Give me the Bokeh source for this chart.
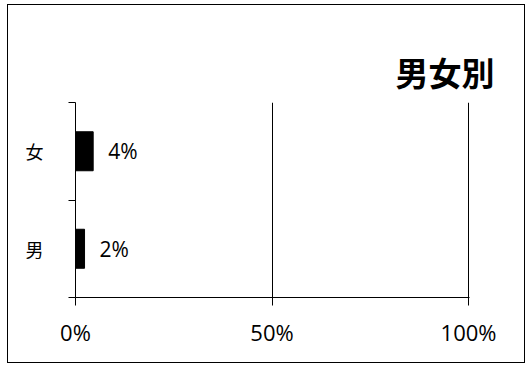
from bokeh.plotting import figure
from bokeh.models import Range1d, FixedTicker, ColumnDataSource, LinearAxis
from bokeh.core.properties import value
from bokeh.embed import file_html
from bokeh.resources import INLINE

# data
categories = ["男", "女"]
positions = [0.5, 1.5]
values = [2.3, 4.5]
bar_labels = [f"{round(v)}%" for v in values]
x_ticks = [0, 50, 100]
x_tick_labels = ["0%", "50%", "100%"]
title_text = "男女別"

src = ColumnDataSource(dict(y=positions, v=values, lab=bar_labels))

p = figure(width=518, height=359, output_backend="svg", toolbar_location=None,
           x_range=Range1d(0, 100.25), y_range=Range1d(0, 2),
           min_border_left=67, min_border_right=57, min_border_top=97, min_border_bottom=67)
p.styles = {"border": "1px solid black", "margin-left": "7px", "margin-top": "4px"}
p.outline_line_color = None
p.background_fill_color = "white"
p.border_fill_color = "white"

p.title.text = title_text
p.title.align = "right"
p.title.vertical_align = "top"
p.title.text_font = "Noto Sans CJK JP"
p.title.text_font_size = "33px"
p.title.text_font_style = "bold"
p.title.text_color = "black"
p.title.offset = -25
p.title.standoff = 10

xa = p.below[0]
ya = p.left[0]

# invisible spacer axis that lifts the title away from the plot area
spacer = LinearAxis(ticker=FixedTicker(ticks=[]), major_tick_out=27, major_tick_in=0,
                    minor_tick_out=0, minor_tick_in=0, axis_line_color=None,
                    major_tick_line_color="white", minor_tick_line_color=None,
                    major_label_text_font_size="0px")
p.add_layout(spacer, "above")

p.hbar(y="y", right="v", left=0, height=0.4, source=src, color="black")
p.text(x="v", y="y", text="lab", source=src, x_offset=15, text_baseline="middle",
       text_align="left", text_font=value("Open Sans"), text_font_size="21px", text_color="black")

xa.ticker = FixedTicker(ticks=x_ticks, minor_ticks=[])
xa.major_label_overrides = {t_: l for t_, l in zip(x_ticks, x_tick_labels)}
xa.major_tick_in = 0
xa.major_tick_out = 8
xa.minor_tick_out = 0
xa.minor_tick_in = 0
xa.axis_line_color = "black"
xa.major_tick_line_color = "black"
xa.major_label_text_font = "Open Sans"
xa.major_label_text_font_size = "22px"
xa.major_label_text_color = "black"
xa.major_label_standoff = 11

ya.ticker = FixedTicker(ticks=positions, minor_ticks=[0, 1, 2])
ya.major_label_overrides = {pos: c for pos, c in zip(positions, categories)}
ya.major_tick_in = 0
ya.major_tick_out = 0
ya.minor_tick_in = 0
ya.minor_tick_out = 7
ya.minor_tick_line_color = "black"
ya.axis_line_color = "black"
ya.major_label_text_font = "Noto Sans CJK JP"
ya.major_label_text_font_size = "18px"
ya.major_label_text_color = "black"
ya.major_label_standoff = 25

p.xgrid.ticker = FixedTicker(ticks=x_ticks)
p.xgrid.grid_line_color = "black"
p.ygrid.grid_line_color = None

open("out.html", "w").write(file_html(p, INLINE))
